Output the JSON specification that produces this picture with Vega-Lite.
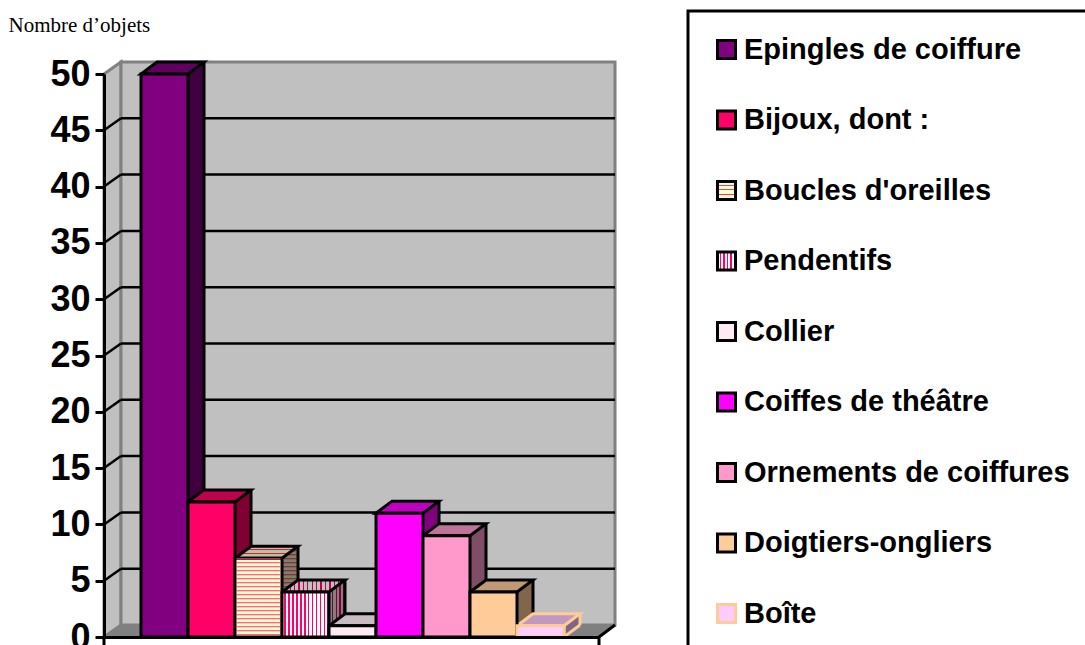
{
"$schema":"https://vega.github.io/schema/vega-lite/v6.json",
"autosize":{"type":"none"},
"padding":{"left":104,"top":74,"right":486,"bottom":8},
"width":495,"height":563,
"background":"white",
"config":{"view":{"stroke":null},"legend":{"strokeWidth":3}},
"data":{"values":[
{"n":"Epingles de coiffure","v":50},
{"n":"Bijoux, dont :","v":12},
{"n":"Boucles d'oreilles","v":7},
{"n":"Pendentifs","v":4},
{"n":"Collier","v":1},
{"n":"Coiffes de théâtre","v":11},
{"n":"Ornements de coiffures","v":9},
{"n":"Doigtiers-ongliers","v":4},
{"n":"Boîte","v":1}
]},
"encoding":{
"x":{"field":"n","type":"nominal","sort":null,"title":null,
 "scale":{"paddingInner":0,"paddingOuter":0.766,"align":0.514},
 "axis":{"labels":false,"ticks":false,"domainColor":"black","domainWidth":3,"title":null,"zindex":1,"grid":false}},
"y":{"field":"v","type":"quantitative","title":"Nombre d’objets",
 "scale":{"domain":[0,50],"nice":false},
 "axis":{"values":[0,5,10,15,20,25,30,35,40,45,50],"grid":false,"zindex":1,"domainColor":"black","domainWidth":3,"tickColor":"black","tickWidth":3,"tickSize":9,"labelFont":"Liberation Sans","labelFontWeight":"bold","labelFontSize":36,"labelColor":"black","labelPadding":5,"titleFont":"Liberation Serif","titleFontWeight":"normal","titleFontSize":21,"titleColor":"black","titleAngle":0,"titleAlign":"left","titleBaseline":"alphabetic","titleX":-96,"titleY":-43}}
},
"layer":[
{"mark":{"type":"point","filled":true,"opacity":1,"color":"#c0c0c0"},
 "encoding":{
 "shape":{"field":"n","type":"nominal","title":null,
  "scale":{"domain":["Epingles de coiffure","Bijoux, dont :","Boucles d'oreilles","Pendentifs","Collier","Coiffes de théâtre","Ornements de coiffures","Doigtiers-ongliers","Boîte"],
  "range":["square","square","square","square","square","square","square","square","square"]},
  "legend":{"orient":"none","legendX":584,"legendY":-63,"title":null,"columns":1,"symbolSize":324,"symbolStrokeWidth":3,"symbolOpacity":1,"symbolStrokeColor":"black","labelFont":"Liberation Sans","labelFontWeight":"bold","labelFontSize":29,"labelColor":"black","labelOffset":3,"labelLimit":500,"rowPadding":39.5,"padding":24,"strokeColor":"black","fillColor":"white",
  "encoding":{"symbols":{
   "stroke":{"condition":{"test":"datum.value==='Boîte'","value":"#ffcc99"},"value":"black"},
   "fill":{"condition":[
   {"test":"indexof(datum.value,'Boucles')==0","value":{"gradient":"linear","x1":0,"y1":0,"x2":0,"y2":1,"stops":[{"offset":0,"color":"#ffffcc"},{"offset":0.18,"color":"#ffffcc"},{"offset":0.18,"color":"#ff3377"},{"offset":0.25,"color":"#ff3377"},{"offset":0.25,"color":"#ffffcc"},{"offset":0.43,"color":"#ffffcc"},{"offset":0.43,"color":"#ff3377"},{"offset":0.5,"color":"#ff3377"},{"offset":0.5,"color":"#ffffcc"},{"offset":0.68,"color":"#ffffcc"},{"offset":0.68,"color":"#ff3377"},{"offset":0.75,"color":"#ff3377"},{"offset":0.75,"color":"#ffffcc"},{"offset":0.93,"color":"#ffffcc"},{"offset":0.93,"color":"#ff3377"},{"offset":1,"color":"#ff3377"}]}},
   {"test":"datum.value==='Pendentifs'","value":{"gradient":"linear","x1":0,"y1":0,"x2":1,"y2":0,"stops":[{"offset":0,"color":"#ffffff"},{"offset":0.12,"color":"#ffffff"},{"offset":0.12,"color":"#ff0066"},{"offset":0.2,"color":"#ff0066"},{"offset":0.2,"color":"#ffffff"},{"offset":0.32,"color":"#ffffff"},{"offset":0.32,"color":"#ff0066"},{"offset":0.4,"color":"#ff0066"},{"offset":0.4,"color":"#ffffff"},{"offset":0.52,"color":"#ffffff"},{"offset":0.52,"color":"#ff0066"},{"offset":0.6,"color":"#ff0066"},{"offset":0.6,"color":"#ffffff"},{"offset":0.72,"color":"#ffffff"},{"offset":0.72,"color":"#ff0066"},{"offset":0.8,"color":"#ff0066"},{"offset":0.8,"color":"#ffffff"},{"offset":0.92,"color":"#ffffff"},{"offset":0.92,"color":"#ff0066"},{"offset":1,"color":"#ff0066"}]}},
   {"test":"indexof(datum.value,'Epingles')==0","value":"#800080"},
   {"test":"indexof(datum.value,'Bijoux')==0","value":"#ff0066"},
   {"test":"datum.value==='Collier'","value":"#fdeaf2"},
   {"test":"indexof(datum.value,'Coiffes')==0","value":"#ff00ff"},
   {"test":"indexof(datum.value,'Ornements')==0","value":"#ff99cc"},
   {"test":"indexof(datum.value,'Doigtiers')==0","value":"#ffcc99"}],
   "value":"#ffccff"}}}}}
 }},
{"data":{"values":[{"t":0}]},
 "mark":{"type":"point","shape":"M0,0L0,-563L17,-575L17,-12Z","size":4,"fill":"#c0c0c0","stroke":"#808080","strokeWidth":3,"opacity":1},
 "encoding":{"x":{"value":0},"y":{"field":"t","type":"quantitative","title":"Nombre d’objets"}}},
{"data":{"values":[{"t":0}]},
 "mark":{"type":"point","shape":"M17,-12L17,-575L511,-575L511,-12Z","size":4,"fill":"#c0c0c0","stroke":"#808080","strokeWidth":3,"opacity":1},
 "encoding":{"x":{"value":0},"y":{"field":"t","type":"quantitative","title":"Nombre d’objets"}}},
{"data":{"values":[{"t":0}]},
 "mark":{"type":"point","shape":"M0,0L495,0L511,-12L17,-12Z","size":4,"fill":"#808080","stroke":"#808080","strokeWidth":1,"opacity":1},
 "encoding":{"x":{"value":0},"y":{"field":"t","type":"quantitative","title":"Nombre d’objets"}}},
{"data":{"values":[{"t":5},{"t":10},{"t":15},{"t":20},{"t":25},{"t":30},{"t":35},{"t":40},{"t":45}]},
 "mark":{"type":"rule","color":"black","strokeWidth":2.5,"yOffset":-12},
 "encoding":{"x":{"value":17},"x2":{"value":511},"y":{"field":"t","type":"quantitative","title":"Nombre d’objets"}}},
{"data":{"values":[{"t":5},{"t":10},{"t":15},{"t":20},{"t":25},{"t":30},{"t":35},{"t":40},{"t":45}]},
 "mark":{"type":"point","shape":"M0,0L17,-12","size":4,"fill":"transparent","stroke":"black","strokeWidth":2.5,"opacity":1},
 "encoding":{"x":{"value":0},"y":{"field":"t","type":"quantitative","title":"Nombre d’objets"}}},
{"data":{"values":[{"t":0}]},
 "mark":{"type":"point","shape":"M0,0L0,9M495,0L495,9M495,0L511,-12","size":4,"fill":"transparent","stroke":"black","strokeWidth":3,"opacity":1},
 "encoding":{"x":{"value":0},"y":{"field":"t","type":"quantitative","title":"Nombre d’objets"}}},
{"mark":{"type":"bar","xOffset":16,"yOffset":-12,"y2Offset":-12,"x2Offset":16,"opacity":1},
 "encoding":{"color":{"condition":[
  {"test":"datum.n==='Pendentifs'","value":{"gradient":"linear","x1":0,"y1":0,"x2":1,"y2":0,"stops":[{"offset":0.66,"color":"#808080"},{"offset":0.72,"color":"#808080"},{"offset":0.72,"color":"#800033"},{"offset":0.75,"color":"#800033"},{"offset":0.75,"color":"#808080"},{"offset":0.8,"color":"#808080"},{"offset":0.8,"color":"#800033"},{"offset":0.83,"color":"#800033"},{"offset":0.83,"color":"#808080"},{"offset":0.88,"color":"#808080"},{"offset":0.88,"color":"#800033"},{"offset":0.91,"color":"#800033"},{"offset":0.91,"color":"#808080"},{"offset":0.96,"color":"#808080"},{"offset":0.96,"color":"#800033"},{"offset":1,"color":"#800033"}]}}],
  "field":"n","type":"nominal","legend":null,
  "scale":{"domain":["Epingles de coiffure","Bijoux, dont :","Boucles d'oreilles","Pendentifs","Collier","Coiffes de théâtre","Ornements de coiffures","Doigtiers-ongliers","Boîte"],
  "range":["#400040","#800033","#808066","#808080","#806f78","#800080","#804d66","#80664d","#806680"]}}}},
{"transform":[{"filter":"indexof(datum.n,'Boucles')==0"}],
 "mark":{"type":"rule","xOffset":8,"yOffset":-12,"y2Offset":-12,"strokeWidth":16,"strokeDash":[1,3],"color":"#801a3c"},
 "encoding":{"x":{"field":"n","type":"nominal","sort":null,"bandPosition":1},"y2":{"datum":0}}},
{"mark":{"type":"point","shape":"M0,-12L0,0L16,-12","size":4,"filled":true,"strokeWidth":3,"opacity":1},
 "encoding":{"x":{"field":"n","type":"nominal","sort":null,"bandPosition":1},
 "y":{"datum":0,"title":"Nombre d’objets"},
 "color":{"field":"n","type":"nominal","legend":null,
  "scale":{"domain":["Epingles de coiffure","Bijoux, dont :","Boucles d'oreilles","Pendentifs","Collier","Coiffes de théâtre","Ornements de coiffures","Doigtiers-ongliers","Boîte"],
  "range":["#400040","#800033","#808066","#808080","#806f78","#800080","#804d66","#80664d","#806680"]}},
 "stroke":{"condition":{"test":"datum.n==='Boîte'","value":"#ffcc99"},"value":"transparent"}}},
{"mark":{"type":"rule","xOffset":16,"yOffset":-12,"y2Offset":-12,"strokeWidth":3},
 "encoding":{"x":{"field":"n","type":"nominal","sort":null,"bandPosition":1},"y2":{"datum":0},
 "color":{"condition":{"test":"datum.n==='Boîte'","value":"#ffcc99"},"value":"black"}}},
{"mark":{"type":"point","shape":"M-23.5,0L23.5,0L39.5,-12L-7.5,-12Z","size":4,"filled":true,"strokeWidth":3,"opacity":1},
 "encoding":{"color":{"condition":[
  {"test":"indexof(datum.n,'Boucles')==0","value":{"gradient":"linear","x1":0,"y1":0,"x2":0,"y2":1,"stops":[{"offset":0,"color":"#bfbf99"},{"offset":0.22,"color":"#bfbf99"},{"offset":0.22,"color":"#bf2659"},{"offset":0.33,"color":"#bf2659"},{"offset":0.33,"color":"#bfbf99"},{"offset":0.55,"color":"#bfbf99"},{"offset":0.55,"color":"#bf2659"},{"offset":0.66,"color":"#bf2659"},{"offset":0.66,"color":"#bfbf99"},{"offset":0.88,"color":"#bfbf99"},{"offset":0.88,"color":"#bf2659"},{"offset":1,"color":"#bf2659"}]}},
  {"test":"datum.n==='Pendentifs'","value":{"gradient":"linear","x1":0,"y1":0,"x2":1,"y2":0,"stops":[{"offset":0,"color":"#bfbfbf"},{"offset":0.05,"color":"#bfbfbf"},{"offset":0.05,"color":"#bf004d"},{"offset":0.07,"color":"#bf004d"},{"offset":0.07,"color":"#bfbfbf"},{"offset":0.12,"color":"#bfbfbf"},{"offset":0.12,"color":"#bf004d"},{"offset":0.14,"color":"#bf004d"},{"offset":0.14,"color":"#bfbfbf"},{"offset":0.19,"color":"#bfbfbf"},{"offset":0.19,"color":"#bf004d"},{"offset":0.21,"color":"#bf004d"},{"offset":0.21,"color":"#bfbfbf"},{"offset":0.26,"color":"#bfbfbf"},{"offset":0.26,"color":"#bf004d"},{"offset":0.28,"color":"#bf004d"},{"offset":0.28,"color":"#bfbfbf"},{"offset":0.33,"color":"#bfbfbf"},{"offset":0.33,"color":"#bf004d"},{"offset":0.35,"color":"#bf004d"},{"offset":0.35,"color":"#bfbfbf"},{"offset":0.4,"color":"#bfbfbf"},{"offset":0.4,"color":"#bf004d"},{"offset":0.42,"color":"#bf004d"},{"offset":0.42,"color":"#bfbfbf"},{"offset":0.47,"color":"#bfbfbf"},{"offset":0.47,"color":"#bf004d"},{"offset":0.49,"color":"#bf004d"},{"offset":0.49,"color":"#bfbfbf"},{"offset":0.54,"color":"#bfbfbf"},{"offset":0.54,"color":"#bf004d"},{"offset":0.56,"color":"#bf004d"},{"offset":0.56,"color":"#bfbfbf"},{"offset":0.61,"color":"#bfbfbf"},{"offset":0.61,"color":"#bf004d"},{"offset":0.63,"color":"#bf004d"},{"offset":0.63,"color":"#bfbfbf"},{"offset":0.68,"color":"#bfbfbf"},{"offset":0.68,"color":"#bf004d"},{"offset":0.7,"color":"#bf004d"},{"offset":0.7,"color":"#bfbfbf"},{"offset":0.75,"color":"#bfbfbf"},{"offset":0.75,"color":"#bf004d"},{"offset":0.77,"color":"#bf004d"},{"offset":0.77,"color":"#bfbfbf"},{"offset":0.82,"color":"#bfbfbf"},{"offset":0.82,"color":"#bf004d"},{"offset":0.84,"color":"#bf004d"},{"offset":0.84,"color":"#bfbfbf"},{"offset":0.89,"color":"#bfbfbf"},{"offset":0.89,"color":"#bf004d"},{"offset":0.91,"color":"#bf004d"},{"offset":0.91,"color":"#bfbfbf"},{"offset":0.96,"color":"#bfbfbf"},{"offset":0.96,"color":"#bf004d"},{"offset":1,"color":"#bf004d"}]}}],
  "field":"n","type":"nominal","legend":null,
  "scale":{"domain":["Epingles de coiffure","Bijoux, dont :","Boucles d'oreilles","Pendentifs","Collier","Coiffes de théâtre","Ornements de coiffures","Doigtiers-ongliers","Boîte"],
  "range":["#600060","#bf004d","#bfbf99","#bfbfbf","#c8bcc2","#c000c0","#bf7399","#bf9973","#bf99c0"]}},
 "stroke":{"condition":{"test":"datum.n==='Boîte'","value":"#ffcc99"},"value":"black"}}},
{"mark":{"type":"bar","strokeWidth":3,"opacity":1},
 "encoding":{"color":{"condition":[
  {"test":"datum.n==='Pendentifs'","value":{"gradient":"linear","x1":0,"y1":0,"x2":1,"y2":0,"stops":[{"offset":0,"color":"#ffffff"},{"offset":0.05,"color":"#ffffff"},{"offset":0.05,"color":"#ff0066"},{"offset":0.0833,"color":"#ff0066"},{"offset":0.0833,"color":"#ffffff"},{"offset":0.1333,"color":"#ffffff"},{"offset":0.1333,"color":"#ff0066"},{"offset":0.1667,"color":"#ff0066"},{"offset":0.1667,"color":"#ffffff"},{"offset":0.2167,"color":"#ffffff"},{"offset":0.2167,"color":"#ff0066"},{"offset":0.25,"color":"#ff0066"},{"offset":0.25,"color":"#ffffff"},{"offset":0.3,"color":"#ffffff"},{"offset":0.3,"color":"#ff0066"},{"offset":0.3333,"color":"#ff0066"},{"offset":0.3333,"color":"#ffffff"},{"offset":0.3833,"color":"#ffffff"},{"offset":0.3833,"color":"#ff0066"},{"offset":0.4167,"color":"#ff0066"},{"offset":0.4167,"color":"#ffffff"},{"offset":0.4667,"color":"#ffffff"},{"offset":0.4667,"color":"#ff0066"},{"offset":0.5,"color":"#ff0066"},{"offset":0.5,"color":"#ffffff"},{"offset":0.55,"color":"#ffffff"},{"offset":0.55,"color":"#ff0066"},{"offset":0.5833,"color":"#ff0066"},{"offset":0.5833,"color":"#ffffff"},{"offset":0.6333,"color":"#ffffff"},{"offset":0.6333,"color":"#ff0066"},{"offset":0.6667,"color":"#ff0066"},{"offset":0.6667,"color":"#ffffff"},{"offset":0.7167,"color":"#ffffff"},{"offset":0.7167,"color":"#ff0066"},{"offset":0.75,"color":"#ff0066"},{"offset":0.75,"color":"#ffffff"},{"offset":0.8,"color":"#ffffff"},{"offset":0.8,"color":"#ff0066"},{"offset":0.8333,"color":"#ff0066"},{"offset":0.8333,"color":"#ffffff"},{"offset":0.8833,"color":"#ffffff"},{"offset":0.8833,"color":"#ff0066"},{"offset":0.9167,"color":"#ff0066"},{"offset":0.9167,"color":"#ffffff"},{"offset":0.9667,"color":"#ffffff"},{"offset":0.9667,"color":"#ff0066"},{"offset":1,"color":"#ff0066"}]}}],
  "field":"n","type":"nominal","legend":null,
  "scale":{"domain":["Epingles de coiffure","Bijoux, dont :","Boucles d'oreilles","Pendentifs","Collier","Coiffes de théâtre","Ornements de coiffures","Doigtiers-ongliers","Boîte"],
  "range":["#800080","#ff0066","#ffffcc","#ff66a0","#fdeaf2","#ff00ff","#ff99cc","#ffcc99","#ffccff"]}},
 "stroke":{"condition":{"test":"datum.n==='Boîte'","value":"#ffcc99"},"value":"black"}}},
{"transform":[{"filter":"indexof(datum.n,'Boucles')==0"}],
 "mark":{"type":"rule","strokeWidth":44,"strokeDash":[1,3],"color":"#ff3377"},
 "encoding":{"y2":{"datum":0}}}
],
"resolve":{"scale":{"color":"independent"}}
}
